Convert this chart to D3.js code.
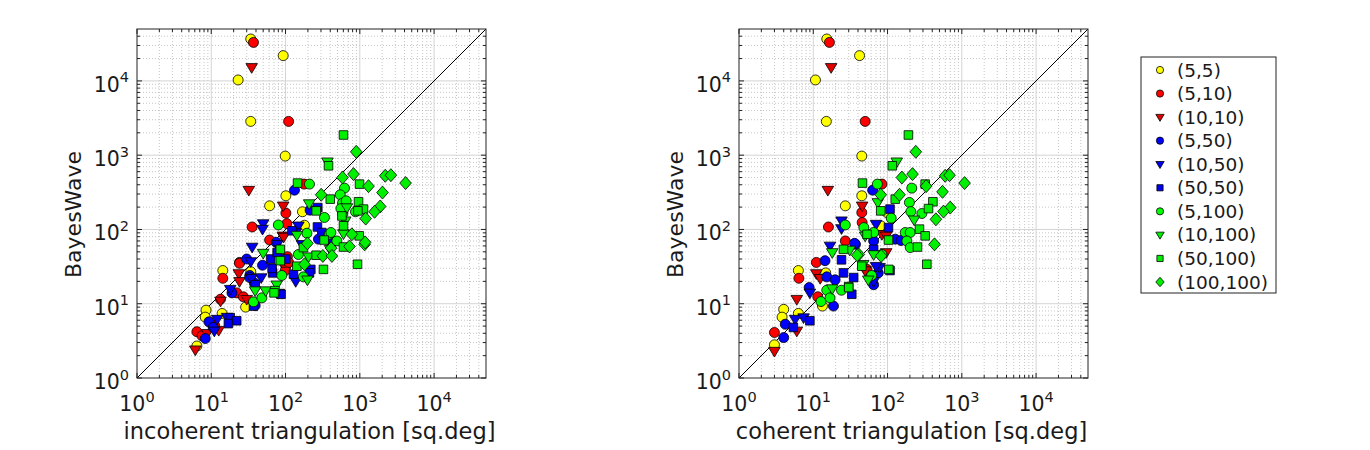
<!DOCTYPE html>
<html>
<head>
<meta charset="utf-8">
<script src="https://cdn.jsdelivr.net/npm/d3@7"></script>
<style>
body{margin:0;background:#fff;}
svg text{font-family:"DejaVu Sans",sans-serif;fill:#1a1a1a;}
</style>
</head>
<body>
<script>
//series labels, colours and marker shapes
var seriesNames = ["(5,5)","(5,10)","(10,10)","(5,50)","(10,50)","(50,50)","(5,100)","(10,100)","(50,100)","(100,100)"];
var seriesColors = ["#ffff00","#ff0000","#e00000","#0000ff","#0000ee","#0000ee","#00ff00","#00ee00","#00ee00","#00ee00"];
var seriesShapes = ["circle","circle","tri","circle","tri","square","circle","tri","square","diamond"];
var tickExps = [0,1,2,3,4];

//incoherent triangulation [x, BayesWave]
var incoh_5_5 = [[34,36700],[93,21900],[23,10300],[34,2850],[99,973],[101,284],[61,208],[169,173],[180,114],[14.3,28],[34,27],[29,9],[8.5,8.2],[8.3,6.6],[14,7.4],[6.4,2.7]];
var incoh_5_10 = [[37,33000],[110,2850],[178,408],[101,166],[35.5,108],[104,120],[106,43],[101,32],[99,28],[24,36],[14.3,22],[24,35],[95,36],[22,14],[27,12.4],[13.3,11.5],[6.4,4.2],[7.5,3.7],[11.1,5.1],[61,72],[110,36]];
var incoh_10_10 = [[35,15200],[32,338],[93,208],[92,82],[23.5,25.5],[24,20],[30,11.5],[13.3,10.9],[8.8,4],[12.6,4.4],[6.1,2.4],[94,79]];
var incoh_5_50 = [[132,338],[214,182],[277,74],[49,33],[33,24],[38,19],[33,22.5],[30,40],[19,14],[39,9.5],[9.3,5.7],[10.6,4.8],[8.3,3.4],[75,67]];
var incoh_10_50 = [[50,120],[49,101],[149,112],[137,91],[166,63],[137,20],[35,22],[35.5,58],[34,37],[47,22.5],[77,63],[18,15.7],[12,6.2],[16.3,6.6],[11,4.3]];
var incoh_50_50 = [[272,197],[269,108],[324,84],[421,70],[63,40],[67,26],[101,40],[128,25],[219,29],[210,26],[85,13.7],[39,18],[66,30],[77,49],[87,13.4],[37,9.3],[18,6.5],[22,5.9],[17,5.4],[122,96],[308,91]];
var incoh_5_100 = [[622,360],[210,408],[545,293],[585,226],[334,145],[875,173],[591,164],[80,115],[194,89],[387,86],[491,70],[174,23],[37,10.6],[48,12],[656,243],[556,191],[408,91],[149,46],[89,24]];
var incoh_10_100 = [[367,815],[208,223],[670,197],[636,131],[398,54],[197,21],[204,43],[142,84],[50,48],[76,18],[39,15],[54,15],[603,88]];
var incoh_50_100 = [[603,1870],[379,720],[991,408],[961,236],[1120,188],[400,256],[145,421],[259,178],[942,178],[603,112],[982,82],[603,58],[331,72],[174,57],[258,45],[142,32],[85,38],[324,29],[931,34],[72,15],[85,54],[70,14],[574,152]];
var incoh_100_100 = [[895,1110],[585,500],[822,556],[1310,383],[2200,528],[2620,538],[4130,421],[2020,314],[1880,204],[1580,173],[302,293],[1200,140],[782,86],[1160,63],[726,59],[411,56],[197,65],[318,44],[180,34],[1180,67],[421,44]];

//coherent triangulation [x, BayesWave]
var coh_5_5 = [[15.2,36700],[42,21900],[10.7,10300],[15,2850],[45,973],[45,284],[27,208],[98,169],[81,112],[6.3,28],[14.7,26],[13.3,9.3],[4,8.4],[3.8,6.6],[6.3,7.4],[3,2.8]];
var coh_5_10 = [[16.5,33000],[50,2850],[84,408],[45,169],[45.5,124],[16,108],[53,29],[27,70],[11,36],[6.4,22],[11.5,12.4],[3,4.1]];
var coh_10_10 = [[17.4,15200],[15.7,338],[45.5,208],[84,86],[96,82],[96,49],[11,25.5],[12.4,22],[50,28],[6,11.5],[6,4.3],[3,2.3]];
var coh_5_50 = [[63,338],[127,74],[152,71],[37,63],[65,70],[36,65],[14.4,38],[15.2,23],[19.7,21],[8.8,16.5],[18.7,9.3],[75,26],[65,18],[4.2,5.3],[4,3.5]];
var coh_10_50 = [[70,118],[24,131],[24,103],[16.8,60],[78,31],[65,20],[9,14],[5.7,6.2],[7.4,6.5],[70,32]];
var coh_50_50 = [[108,188],[103,106],[65,54],[108,28],[35,22.5],[24,39],[25.5,26],[33,13.4],[9,5.9],[5.4,4.8]];
var coh_5_100 = [[212,360],[73,408],[197,231],[206,174],[290,164],[112,142],[48,106],[27,115],[173,91],[202,91],[182,70],[202,57],[65,91],[84,46],[61,24],[15.2,15.2],[24,15.2],[12.7,10.7],[16.8,12]];
var coh_10_100 = [[133,815],[228,135],[74,231],[50,82],[47,34],[18,49],[31,53],[18,16],[55,21],[65,46]];
var coh_50_100 = [[191,1870],[116,720],[321,408],[46,421],[408,236],[356,191],[127,256],[81,178],[269,101],[321,82],[253,58],[338,34],[30,17],[25.5,54],[30,16.5],[45,32],[53,86],[103,72],[104,29]];
var coh_100_100 = [[240,1110],[156,500],[217,556],[331,383],[81,293],[145,293],[597,528],[683,538],[1090,421],[550,321],[698,197],[567,174],[448,137],[429,63],[41,46],[39,45],[82,44]];

var incoherentData = [incoh_5_5, incoh_5_10, incoh_10_10, incoh_5_50, incoh_10_50, incoh_50_50, incoh_5_100, incoh_10_100, incoh_50_100, incoh_100_100];
var coherentData = [coh_5_5, coh_5_10, coh_10_10, coh_5_50, coh_10_50, coh_50_50, coh_5_100, coh_10_100, coh_50_100, coh_100_100];

var svg = d3.select("body").append("svg")
    .attr("width", 1370)
    .attr("height", 450);

//marker path for each shape, s = scale
function markerPath(shape, s){
    if (shape == "circle"){
        var r = 5 * s;
        return "M" + (-r) + ",0A" + r + "," + r + " 0 1,0 " + r + ",0A" + r + "," + r + " 0 1,0 " + (-r) + ",0Z";
    } else if (shape == "tri"){
        return "M" + (-5.8*s) + "," + (-3.8*s) + "L" + (5.8*s) + "," + (-3.8*s) + "L0," + (5.9*s) + "Z";
    } else if (shape == "square"){
        var h = 4.3 * s;
        return "M" + (-h) + "," + (-h) + "H" + h + "V" + h + "H" + (-h) + "Z";
    } else {
        return "M0," + (-6.5*s) + "L" + (5.8*s) + ",0L0," + (6.5*s) + "L" + (-5.8*s) + ",0Z";
    }
};

function drawPanel(left, data, xlabel){
    var top = 29, size = 349;
    var x = d3.scaleLog().domain([1, 5e4]).range([left, left + size]);
    var y = d3.scaleLog().domain([1, 5e4]).range([top + size, top]);

    var g = svg.append("g").attr("class", "panel");

    g.append("rect")
        .attr("x", left).attr("y", top)
        .attr("width", size).attr("height", size)
        .attr("fill", "#fff");

    //minor and major tick values
    var minor = [], major = [];
    tickExps.forEach(function(e){
        major.push(Math.pow(10, e));
        for (var m = 2; m <= 9; m++){
            var v = m * Math.pow(10, e);
            if (v < 5e4) minor.push(v);
        }
    });

    //minor grid (dotted)
    g.selectAll(".mgx").data(minor).enter().append("line")
        .attr("x1", function(d){ return x(d); }).attr("x2", function(d){ return x(d); })
        .attr("y1", top).attr("y2", top + size)
        .attr("stroke", "#b8b8b8").attr("stroke-width", 0.8).attr("stroke-dasharray", "1,2");
    g.selectAll(".mgy").data(minor).enter().append("line")
        .attr("y1", function(d){ return y(d); }).attr("y2", function(d){ return y(d); })
        .attr("x1", left).attr("x2", left + size)
        .attr("stroke", "#b8b8b8").attr("stroke-width", 0.8).attr("stroke-dasharray", "1,2");

    //major grid
    g.selectAll(".Mgx").data(major.slice(1)).enter().append("line")
        .attr("x1", function(d){ return x(d); }).attr("x2", function(d){ return x(d); })
        .attr("y1", top).attr("y2", top + size)
        .attr("stroke", "#d4d4d4").attr("stroke-width", 1);
    g.selectAll(".Mgy").data(major.slice(1)).enter().append("line")
        .attr("y1", function(d){ return y(d); }).attr("y2", function(d){ return y(d); })
        .attr("x1", left).attr("x2", left + size)
        .attr("stroke", "#d4d4d4").attr("stroke-width", 1);

    //inward ticks on all four sides
    var ticks = major.map(function(v){ return {v: v, len: 5}; })
        .concat(minor.map(function(v){ return {v: v, len: 3}; }));
    ticks.forEach(function(t){
        var px = x(t.v), py = y(t.v);
        g.append("line").attr("x1", px).attr("x2", px).attr("y1", top + size).attr("y2", top + size - t.len).attr("stroke", "#222");
        g.append("line").attr("x1", px).attr("x2", px).attr("y1", top).attr("y2", top + t.len).attr("stroke", "#222");
        g.append("line").attr("y1", py).attr("y2", py).attr("x1", left).attr("x2", left + t.len).attr("stroke", "#222");
        g.append("line").attr("y1", py).attr("y2", py).attr("x1", left + size).attr("x2", left + size - t.len).attr("stroke", "#222");
    });

    //diagonal y = x
    g.append("line")
        .attr("x1", x(1)).attr("y1", y(1))
        .attr("x2", x(5e4)).attr("y2", y(5e4))
        .attr("stroke", "#000").attr("stroke-width", 1);

    //markers, series in legend order
    data.forEach(function(pts, i){
        g.selectAll(".s" + i).data(pts).enter().append("path")
            .attr("class", "s" + i)
            .attr("d", markerPath(seriesShapes[i], 1))
            .attr("transform", function(d){ return "translate(" + x(d[0]) + "," + y(d[1]) + ")"; })
            .attr("fill", seriesColors[i])
            .attr("stroke", "#000")
            .attr("stroke-width", 0.8);
    });

    //box
    g.append("rect")
        .attr("x", left).attr("y", top)
        .attr("width", size).attr("height", size)
        .attr("fill", "none").attr("stroke", "#222").attr("stroke-width", 1);

    //x tick labels
    tickExps.forEach(function(e){
        var t = g.append("text")
            .attr("x", x(Math.pow(10, e)))
            .attr("y", 411)
            .attr("text-anchor", "middle")
            .style("font-size", "20.5px");
        t.append("tspan").text("10");
        t.append("tspan").attr("dy", -9.5).style("font-size", "14.5px").text(e);
    });

    //y tick labels
    tickExps.forEach(function(e){
        var t = g.append("text")
            .attr("x", left - 8)
            .attr("y", y(Math.pow(10, e)) + 11)
            .attr("text-anchor", "end")
            .style("font-size", "20.5px");
        t.append("tspan").text("10");
        t.append("tspan").attr("dy", -9.5).style("font-size", "14.5px").text(e);
    });

    //axis titles
    g.append("text")
        .attr("x", left + size / 2 - 2)
        .attr("y", 439)
        .attr("text-anchor", "middle")
        .style("font-size", "22.5px")
        .text(xlabel);

    g.append("text")
        .attr("transform", "translate(" + (left - 56) + "," + (top + size / 2 + 11) + ") rotate(-90)")
        .attr("text-anchor", "middle")
        .style("font-size", "22px")
        .text("BayesWave");
};

drawPanel(137, incoherentData, "incoherent triangulation [sq.deg]");
drawPanel(739, coherentData, "coherent triangulation [sq.deg]");

//legend
var legend = svg.append("g").attr("class", "legend");
legend.append("rect")
    .attr("x", 1141).attr("y", 57)
    .attr("width", 135).attr("height", 236)
    .attr("fill", "#fff").attr("stroke", "#222").attr("stroke-width", 1);

var ly = d3.scaleLinear().domain([0, 9]).range([70, 282]);

seriesNames.forEach(function(name, i){
    legend.append("path")
        .attr("d", markerPath(seriesShapes[i], 0.72))
        .attr("transform", "translate(1160," + ly(i) + ")")
        .attr("fill", seriesColors[i])
        .attr("stroke", "#000")
        .attr("stroke-width", 0.8);
    legend.append("text")
        .attr("x", 1177)
        .attr("y", ly(i) + 6.5)
        .style("font-size", "18.5px")
        .text(name);
});
</script>
</body>
</html>
